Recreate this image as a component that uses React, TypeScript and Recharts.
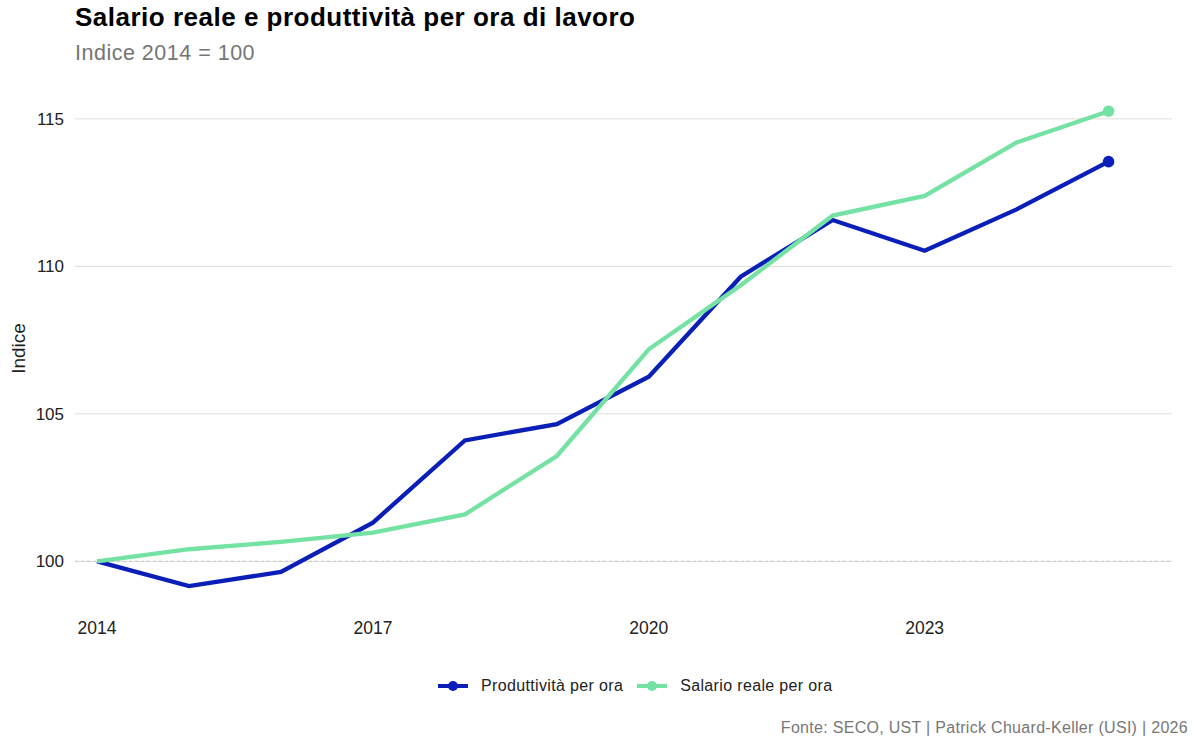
import React from 'react';
import {
  LineChart,
  Line,
  XAxis,
  YAxis,
  CartesianGrid,
  ReferenceLine,
  Legend,
} from 'recharts';

const years = [2014, 2015, 2016, 2017, 2018, 2019, 2020, 2021, 2022, 2023, 2024, 2025];
const productivity = [100, 99.16, 99.64, 101.31, 104.1, 104.65, 106.26, 109.65, 111.57, 110.53, 111.93, 113.55];
const realWage = [100, 100.41, 100.66, 100.97, 101.59, 103.57, 107.19, 109.36, 111.72, 112.39, 114.2, 115.26];
const xTicks = [2014, 2017, 2020, 2023];
const yTicks = [100, 105, 110, 115];

const seriesNames = { prod: 'Produttività per ora', wage: 'Salario reale per ora' };
const colors = { prod: '#0A1EB8', wage: '#74E2A3' };

const data = years.map((y, i) => ({ year: y, prod: productivity[i], wage: realWage[i] }));

const FONT = '"Liberation Sans", Arial, sans-serif';

const lastDot = (color: string) => (props: any) => {
  const { cx, cy, index } = props;
  if (index !== years.length - 1) return <g key={`d${index}`} />;
  return <circle key={`d${index}`} cx={cx} cy={cy} r={5.8} fill={color} stroke="none" />;
};

const LegendContent = () => {
  const items = [
    { key: 'prod', label: seriesNames.prod, color: colors.prod },
    { key: 'wage', label: seriesNames.wage, color: colors.wage },
  ];
  return (
    <div style={{ display: 'flex', justifyContent: 'flex-start', alignItems: 'center', paddingLeft: 438, fontFamily: FONT, fontSize: 16, letterSpacing: 0.35, color: '#222' }}>
      {items.map((it) => (
        <div key={it.key} style={{ display: 'flex', alignItems: 'center', marginRight: 14 }}>
          <svg width={30} height={14} style={{ marginRight: 13 }}>
            <line x1={0} y1={7} x2={30} y2={7} stroke={it.color} strokeWidth={4} />
            <circle cx={15} cy={7} r={5} fill={it.color} />
          </svg>
          <span>{it.label}</span>
        </div>
      ))}
    </div>
  );
};

export default function App() {
  return (
    <div style={{ position: 'absolute', left: 0, top: 0, width: 1200, height: 750, background: '#fff', fontFamily: FONT }}>
      <div style={{ position: 'absolute', left: 75, top: 2, fontSize: 26, fontWeight: 700, letterSpacing: 0.5, color: '#000', whiteSpace: 'nowrap' }}>
        Salario reale e produttività per ora di lavoro
      </div>
      <div style={{ position: 'absolute', left: 75, top: 41, fontSize: 21.5, letterSpacing: 0.5, color: '#757575', whiteSpace: 'nowrap' }}>
        Indice 2014 = 100
      </div>
      <div style={{ position: 'absolute', left: 0, top: 0 }}>
        <LineChart width={1200} height={750} data={data} margin={{ top: 87, right: 28, bottom: 0, left: 0 }}>
          <CartesianGrid horizontal vertical={false} horizontalValues={yTicks} stroke="#dcdcdc" strokeWidth={1} />
          <XAxis
            dataKey="year"
            type="number"
            domain={[2013.76, 2025.69]}
            ticks={xTicks}
            axisLine={false}
            tickLine={false}
            tickMargin={6}
            height={60}
            tick={{ fontSize: 17.5, fill: '#222', fontFamily: FONT }}
          />
          <YAxis
            type="number"
            domain={[98.35, 116.08]}
            ticks={yTicks}
            axisLine={false}
            tickLine={false}
            tickMargin={5}
            width={75}
            tick={{ fontSize: 17, fill: '#222', fontFamily: FONT }}
            label={{ value: 'Indice', angle: -90, position: 'insideLeft', offset: 18, style: { textAnchor: 'middle', fontSize: 19, fill: '#222', fontFamily: FONT } }}
          />
          <ReferenceLine y={100} stroke="#c8c8c8" strokeDasharray="3 3" strokeWidth={1} />
          <Legend verticalAlign="bottom" height={80} content={<LegendContent />} wrapperStyle={{ top: 677, left: 0, width: 1200 }} />
          <Line
            type="linear"
            dataKey="prod"
            name={seriesNames.prod}
            stroke={colors.prod}
            strokeWidth={4.3}
            dot={lastDot(colors.prod)}
            activeDot={false}
            isAnimationActive={false}
          />
          <Line
            type="linear"
            dataKey="wage"
            name={seriesNames.wage}
            stroke={colors.wage}
            strokeWidth={4.3}
            dot={lastDot(colors.wage)}
            activeDot={false}
            isAnimationActive={false}
          />
        </LineChart>
      </div>
      <div style={{ position: 'absolute', right: 12, top: 719, fontSize: 16, letterSpacing: 0.3, color: '#777', whiteSpace: 'nowrap' }}>
        Fonte: SECO, UST | Patrick Chuard-Keller (USI) | 2026
      </div>
    </div>
  );
}
